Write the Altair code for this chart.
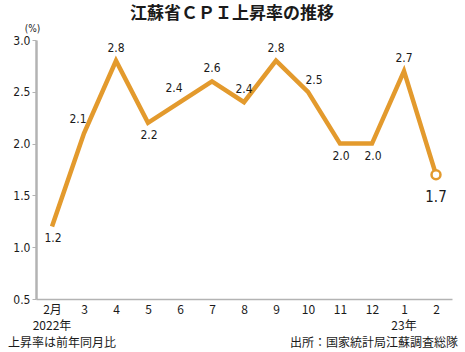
import altair as alt
import pandas as pd

# ---- data ----
month_labels = ["2月", "3", "4", "5", "6", "7", "8", "9", "10", "11", "12", "1", "2"]
cpi_values = [1.2, 2.1, 2.8, 2.2, 2.4, 2.6, 2.4, 2.8, 2.5, 2.0, 2.0, 2.7, 1.7]
label_place = ["below", "aboveleft", "above", "below", "aboveleft", "above", "above",
               "above", "aboveright", "below", "below", "above", "last"]
year_labels = ["2022年", "23年"]
year_index = [0, 11]
y_ticks = [0.5, 1.0, 1.5, 2.0, 2.5, 3.0]

title_text = "江蘇省ＣＰＩ上昇率の推移"
note_left = "上昇率は前年同月比"
note_right = "出所：国家統計局江蘇調査総隊"

ORANGE = "#E39A2D"
AXIS_GRAY = "#b3b3b3"
TXT = "#1a1a1a"
NUMFONT = "Liberation Sans Narrow, DejaVu Sans Condensed, Noto Sans CJK JP, sans-serif"
JPFONT = "Noto Sans CJK JP, sans-serif"

df = pd.DataFrame({
    "i": list(range(len(cpi_values))),
    "v": cpi_values,
    "place": label_place,
    "lbl": [f"{v:.1f}" for v in cpi_values],
})
years = pd.DataFrame({"i": year_index, "t": year_labels})

W, H = 416, 259

label_expr = "[" + ",".join(f"'{m}'" for m in month_labels) + "][datum.value]"

x_enc = alt.X("i:O", scale=alt.Scale(type="point", padding=0.5),
              axis=alt.Axis(title=None, labelExpr=label_expr, ticks=False,
                            domainColor=AXIS_GRAY, domainWidth=1.5,
                            labelAngle=0, labelFont=JPFONT, labelFontSize=12,
                            labelColor=TXT, labelPadding=5))
y_enc = alt.Y("v:Q", scale=alt.Scale(domain=[0.5, 3.0], nice=False, zero=False),
              axis=alt.Axis(values=y_ticks, format=".1f", grid=False,
                            title="(%)", titleAngle=0, titleX=-4, titleY=-7,
                            titleAlign="center", titleFontSize=10,
                            titleFontWeight="normal", titleFont=NUMFONT, titleColor=TXT,
                            domainColor=AXIS_GRAY, domainWidth=2.5,
                            tickColor=AXIS_GRAY, tickSize=4, tickWidth=1,
                            labelFont=NUMFONT, labelFontSize=12, labelColor=TXT,
                            labelPadding=2))

base = alt.Chart(df)

line = base.mark_line(color=ORANGE, strokeWidth=4.5, strokeJoin="miter").encode(x=x_enc, y=y_enc)

last_pt = base.transform_filter("datum.place == 'last'").mark_point(
    shape="circle", filled=True, fill="white", stroke=ORANGE, strokeWidth=2.5,
    size=80, opacity=1).encode(x="i:O", y="v:Q")

offsets = {
    "below": (1, 12, 12),
    "above": (0, -13, 12),
    "aboveleft": (-6, -14, 12),
    "aboveright": (6, -12, 12),
    "last": (0, 22, 15),
}
label_layers = []
for p, (dx, dy, fs) in offsets.items():
    label_layers.append(
        base.transform_filter(f"datum.place == '{p}'").mark_text(
            dx=dx, dy=dy, fontSize=fs, font=NUMFONT, color=TXT
        ).encode(x="i:O", y="v:Q", text="lbl:N")
    )

year_layer = alt.Chart(years).mark_text(
    fontSize=12, font=JPFONT, color=TXT, baseline="middle"
).encode(x="i:O", y=alt.value(H + 27), text="t:N")

title_layer = alt.Chart(pd.DataFrame({"t": [title_text]})).mark_text(
    fontSize=17, fontWeight="bold", font=JPFONT, color=TXT, baseline="middle"
).encode(x=alt.value(196), y=alt.value(-26), text="t:N")

note_l = alt.Chart(pd.DataFrame({"t": [note_left]})).mark_text(
    fontSize=12, font=JPFONT, color=TXT, align="left", baseline="middle"
).encode(x=alt.value(-28), y=alt.value(H + 44), text="t:N")

note_r = alt.Chart(pd.DataFrame({"t": [note_right]})).mark_text(
    fontSize=12, font=JPFONT, color=TXT, align="right", baseline="middle"
).encode(x=alt.value(W + 6), y=alt.value(H + 44), text="t:N")

chart = alt.layer(line, last_pt, *label_layers, year_layer, title_layer, note_l, note_r).properties(
    width=W, height=H,
    autosize=alt.AutoSizeParams(type="none"),
    padding={"left": 36, "top": 40, "right": 13, "bottom": 53},
    background="white",
).configure_view(stroke=None)

chart.save("out.html", embed_options={"renderer": "svg", "actions": False})
